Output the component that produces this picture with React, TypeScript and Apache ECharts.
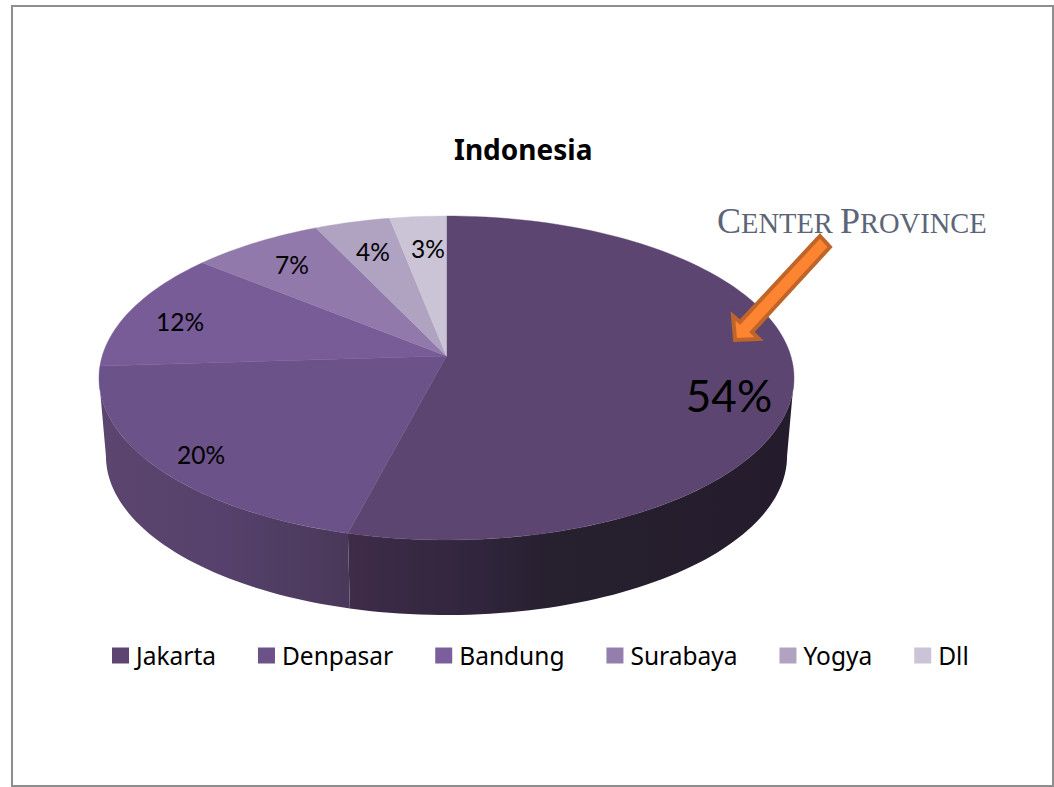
import React, { useEffect, useRef } from "react";
import * as echarts from "echarts";

const categories = ["Jakarta", "Denpasar", "Bandung", "Surabaya", "Yogya", "Dll"];
const shares = [54, 20, 12, 7, 4, 3];
const topColors = ["#5c4570", "#6b5289", "#775c98", "#917aab", "#afa3c1", "#cbc4d6"];
const legendColors = ["#5c4570", "#6b5289", "#7b5f9c", "#947eae", "#afa3c1", "#cbc4d6"];
const wallStops: [number, string][][] = [
  [[0, "#3f2c49"], [0.3, "#30253c"], [0.45, "#27202f"], [1, "#241c2c"]],
  [[0, "#5c4670"], [0.5, "#55416b"], [1, "#4a3859"]],
  [],
  [],
  [],
  [],
];
const labelFontSizes = [44, 24.5, 24.5, 24.5, 24.5, 24.5];
const labelSpots = [[729, 395], [201, 454], [180, 321], [292, 264], [373, 251], [428, 248]];

const TOP = { cx: 446.5, cy: 356, a: 344.3, b: 159 };
const BOTTOM = { cx: 446.5, cy: 434.5, a: 337.4, b: 156 };
const K = 0.1358;
const WALL_FROM = (97.8 / 180) * Math.PI;
const WALL_TO = (262.2 / 180) * Math.PI;
const FONT = "Lato";
const HEAD_FONT = "Noto Sans";

const total = shares.reduce((s, v) => s + v, 0);

function rim(face: typeof TOP, theta: number) {
  const u = Math.sin(theta);
  const v = -Math.cos(theta);
  const w = 1 - K * v;
  return [face.cx + (face.a * u) / w, face.cy + (face.b * v) / w];
}

function sweep(face: typeof TOP, from: number, to: number) {
  const n = Math.max(2, Math.ceil(((to - from) / Math.PI) * 120));
  const pts: number[][] = [];
  for (let i = 0; i <= n; i++) pts.push(rim(face, from + ((to - from) * i) / n));
  return pts;
}

function sliceRenderer(index: number) {
  const before = shares.slice(0, index).reduce((s, v) => s + v, 0);
  return (_params: unknown, api: any) => {
    const from = (before / total) * Math.PI * 2;
    const to = ((before + api.value(0)) / total) * Math.PI * 2;
    const children: any[] = [];
    const wallFrom = Math.max(from, WALL_FROM);
    const wallTo = Math.min(to, WALL_TO);
    if (wallTo > wallFrom && wallStops[index].length) {
      const upper = sweep(TOP, wallFrom, wallTo);
      const lower = sweep(BOTTOM, wallFrom, wallTo).reverse();
      children.push({
        type: "polygon",
        shape: { points: upper.concat(lower) },
        style: {
          fill: {
            type: "linear",
            x: 0,
            y: 0,
            x2: 1,
            y2: 0,
            colorStops: wallStops[index].map(([offset, color]) => ({ offset, color })),
          },
        },
      });
    }
    const top = [[TOP.cx, TOP.cy]].concat(sweep(TOP, from, to));
    children.push({
      type: "polygon",
      shape: { points: top },
      style: { fill: topColors[index], stroke: topColors[index], lineWidth: 0.4 },
    });
    return { type: "group", children };
  };
}

export default function App() {
  const ref = useRef<HTMLDivElement>(null);
  useEffect(() => {
    document.body.style.margin = "0";
    document.body.style.overflow = "hidden";
    const chart = echarts.init(ref.current!, undefined, { renderer: "svg" });
    chart.setOption({
      animation: false,
      backgroundColor: "#ffffff",
      title: {
        text: "Indonesia",
        left: 449,
        top: 130,
        textStyle: { fontFamily: HEAD_FONT, fontSize: 28, fontWeight: "bold", color: "#000" },
      },
      legend: {
        left: 107,
        top: 638,
        itemWidth: 17,
        itemHeight: 16,
        itemGap: 42,
        icon: "rect",
        textStyle: { fontFamily: HEAD_FONT, fontSize: 24.5, color: "#000", padding: [0, 0, 0, 2] },
        data: categories,
      },
      series: categories.map((name, i) => ({
        type: "custom",
        name,
        coordinateSystem: "none",
        itemStyle: { color: legendColors[i] },
        data: [[shares[i]]],
        renderItem: sliceRenderer(i),
        silent: true,
        z: 2,
      })),
      graphic: [
        {
          type: "rect",
          shape: { x: 12, y: 6, width: 1041, height: 780 },
          style: { fill: "none", stroke: "#8e8e8e", lineWidth: 2 },
          z: 1,
        },
        ...shares.map((v, i) => ({
          type: "text",
          x: labelSpots[i][0],
          y: labelSpots[i][1],
          z: 10,
          style: {
            text: v + "%",
            fontFamily: FONT,
            fontSize: labelFontSizes[i],
            fill: "#000",
            align: "center",
            verticalAlign: "middle",
          },
        })),
        {
          type: "polygon",
          z: 11,
          shape: {
            points: [[820, 236], [830, 247], [752, 332], [759, 339], [735, 340], [733, 316], [740, 322]],
          },
          style: { fill: "#fd8430", stroke: "#c0652a", lineWidth: 4, lineJoin: "miter" },
        },
        {
          type: "text",
          x: 717,
          y: 221,
          z: 12,
          style: {
            text: "{a|C}{b|ENTER }{a|P}{b|ROVINCE}",
            verticalAlign: "middle",
            rich: {
              a: { fontFamily: "Liberation Serif", fontSize: 36, fill: "#5b6577", verticalAlign: "bottom" },
              b: { fontFamily: "Liberation Serif", fontSize: 28.5, fill: "#5b6577", verticalAlign: "bottom", padding: [0, 0, 1.5, 0] },
            },
          },
        },
      ],
    });
    return () => chart.dispose();
  }, []);
  return <div ref={ref} style={{ position: "absolute", left: 0, top: 0, width: 1054, height: 787 }} />;
}
